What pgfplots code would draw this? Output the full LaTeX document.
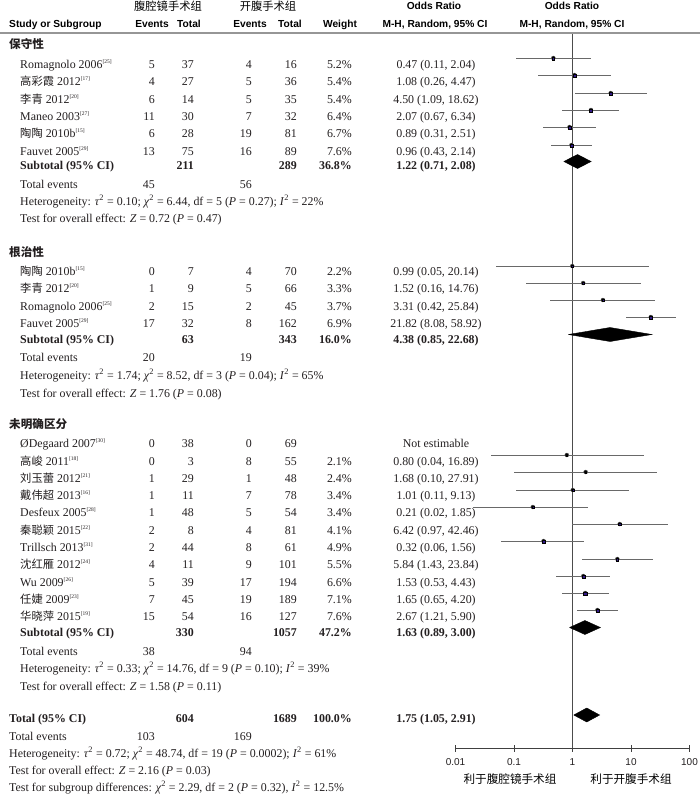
\documentclass[border=0pt]{standalone}
\usepackage{pgfplots}
\pgfplotsset{compat=1.18}
\usepackage{pgfplotstable}
\usepackage{fontspec}
\setmainfont{Liberation Serif}
\setsansfont{Liberation Sans}
\newfontfamily\cjk{Noto Sans CJK SC}
\definecolor{txt}{RGB}{35,31,32}
\definecolor{sq}{RGB}{50,25,135}
\definecolor{ci}{RGB}{105,105,105}
\definecolor{hline}{RGB}{150,150,150}

\newcommand\rf[1]{\textsuperscript{\fontsize{5.5}{5.5}\selectfont[#1]}}
\newcommand\C[1]{{\cjk\fontsize{11.3}{12}\selectfont #1}}
\newcommand\bodyfont{\fontsize{11.9}{13}\selectfont}
\newcommand\hdfont{\sffamily\bfseries\fontsize{10.2}{12}\selectfont}
\newcommand\srow[8]{%
  \node[anchor=base west] at (20pt,-#1pt) {#2};
  \node[anchor=base east] at (155pt,-#1pt) {#3};
  \node[anchor=base east] at (194pt,-#1pt) {#4};
  \node[anchor=base east] at (252pt,-#1pt) {#5};
  \node[anchor=base east] at (297pt,-#1pt) {#6};
  \node[anchor=base east] at (352pt,-#1pt) {#7};
  \node[anchor=base] at (436pt,-#1pt) {#8};}
\newcommand\tev[4]{%
  \node[anchor=base west] at (#1pt,-#2pt) {Total events};
  \node[anchor=base east] at (155pt,-#2pt) {#3};
  \node[anchor=base east] at (252pt,-#2pt) {#4};}
% square marker: OR, row, half side (grows with weight)
\newcommand\sqp[3]{\addplot[only marks, mark=square*, mark size=#3,
  mark options={draw=none, fill=sq}] coordinates {(#1,#2)};}

% studies: odds ratio, 95% CI, row position (negative pixel row), weight (%)
\pgfplotstableread{
or    lo    hi     y     w
0.47  0.11  2.04   -58   5.2
1.08  0.26  4.47   -75   5.4
4.50  1.09  18.62  -93   5.4
2.07  0.67  6.34   -110  6.4
0.89  0.31  2.51   -127  6.7
0.96  0.43  2.14   -145  7.6
0.99  0.05  20.14  -266  2.2
1.52  0.16  14.76  -283  3.3
3.31  0.42  25.84  -300  3.7
21.82 8.08  58.92  -317  6.9
0.80  0.04  16.89  -455  2.1
1.68  0.10  27.91  -472  2.4
1.01  0.11  9.13   -490  3.4
0.21  0.02  1.85   -507  3.4
6.42  0.97  42.46  -524  4.1
0.32  0.06  1.56   -541  4.9
5.84  1.43  23.84  -559  5.5
1.53  0.53  4.43   -576  6.6
1.65  0.65  4.20   -593  7.1
2.67  1.21  5.90   -610  7.6
}\studies

\begin{document}
\begin{tikzpicture}
\path[use as bounding box] (0pt,0pt) rectangle (700pt,-795pt);
\begin{axis}[
  at={(455.5pt,-748pt)}, anchor=south west,
  scale only axis, width=234pt, height=715pt,
  xmode=log, xmin=0.01, xmax=100, ymin=-748, ymax=-33,
  clip=false,
  axis x line=bottom, axis y line=none,
  x axis line style={-, draw=black!75, line width=0.8pt},
  xtick={0.01,0.1,1,10,100},
  xticklabels={0.01,0.1,1,10,100},
  minor xtick={}, xminorticks=false,
  tick align=center, major tick length=7pt,
  every tick/.style={draw=black!75, line width=0.8pt},
  xticklabel style={font=\sffamily\fontsize{10}{10}\selectfont, text=txt, inner sep=0pt, yshift=-7pt},
  ytick=\empty,
]
\addplot[draw=black!70, line width=0.8pt] coordinates {(1,-33) (1,-748)};
\addplot[only marks, mark=none, draw=ci,
  error bars/.cd, x dir=both, x explicit, error mark=none,
  error bar style={draw=ci, line width=0.7pt}]
  table[x=or, y=y, x error minus expr=\thisrow{or}-\thisrow{lo},
        x error plus expr=\thisrow{hi}-\thisrow{or}] {\studies};
\sqp{0.47}{-58.5}{1.28}
\sqp{1.08}{-75.5}{1.31}
\sqp{4.50}{-93.5}{1.31}
\sqp{2.07}{-110.5}{1.46}
\sqp{0.89}{-127.5}{1.51}
\sqp{0.96}{-145.5}{1.64}
\sqp{0.99}{-266.5}{0.83}
\sqp{1.52}{-283.5}{1.00}
\sqp{3.31}{-300.5}{1.06}
\sqp{21.82}{-317.5}{1.54}
\sqp{0.80}{-455.5}{0.82}
\sqp{1.68}{-472.5}{0.86}
\sqp{1.01}{-490.5}{1.01}
\sqp{0.21}{-507.5}{1.01}
\sqp{6.42}{-524.5}{1.12}
\sqp{0.32}{-541.5}{1.24}
\sqp{5.84}{-559.5}{1.33}
\sqp{1.53}{-576.5}{1.49}
\sqp{1.65}{-593.5}{1.57}
\sqp{2.67}{-610.5}{1.64}
\addplot[fill=black, draw=black] coordinates {(0.71,-161.5) (1.22,-154.5) (2.08,-161.5) (1.22,-168.5) (0.71,-161.5)};
\addplot[fill=black, draw=black] coordinates {(0.85,-334.5) (4.38,-327.5) (22.68,-334.5) (4.38,-341.5) (0.85,-334.5)};
\addplot[fill=black, draw=black] coordinates {(0.89,-627.5) (1.63,-620.5) (3.00,-627.5) (1.63,-634.5) (0.89,-627.5)};
\addplot[fill=black, draw=black] coordinates {(1.05,-715) (1.75,-708) (2.91,-715) (1.75,-722) (1.05,-715)};
\end{axis}

\draw[hline, line width=1.6pt] (0pt,-33pt) -- (700pt,-33pt);

% headers
\begin{scope}[every node/.style={inner sep=0pt, text=black}]
\node[anchor=base] at (168pt,-10.5pt) {\cjk\fontsize{11.3}{12}\selectfont 腹腔镜手术组};
\node[anchor=base] at (268pt,-10.5pt) {\cjk\fontsize{11.3}{12}\selectfont 开腹手术组};
\node[anchor=base] at (434pt,-9.6pt) {\hdfont Odds Ratio};
\node[anchor=base] at (572pt,-9.6pt) {\hdfont Odds Ratio};
\node[anchor=base west] at (9pt,-27.6pt) {\hdfont Study or Subgroup};
\node[anchor=base] at (152pt,-27.6pt) {\hdfont Events};
\node[anchor=base] at (189pt,-27.6pt) {\hdfont Total};
\node[anchor=base] at (250pt,-27.6pt) {\hdfont Events};
\node[anchor=base] at (290pt,-27.6pt) {\hdfont Total};
\node[anchor=base] at (340pt,-27.6pt) {\hdfont Weight};
\node[anchor=base] at (435pt,-27.6pt) {\hdfont M-H, Random, 95\% CI};
\node[anchor=base] at (572pt,-27.6pt) {\hdfont M-H, Random, 95\% CI};
\node[anchor=base] at (510pt,-783.6pt) {\cjk\fontsize{11.6}{12}\selectfont 利于腹腔镜手术组};
\node[anchor=base] at (631pt,-783.6pt) {\cjk\fontsize{11.6}{12}\selectfont 利于开腹手术组};
\end{scope}

\begin{scope}[every node/.style={inner sep=0pt, text=txt, font=\bodyfont}]
% group 1
\node[anchor=base west] at (9pt,-48.6pt) {\cjk\bfseries\fontsize{11.6}{12}\selectfont 保守性};
\srow{68}{Romagnolo 2006\rf{25}}{5}{37}{4}{16}{5.2\%}{0.47 (0.11, 2.04)}
\srow{85}{\C{高彩霞} 2012\rf{17}}{4}{27}{5}{36}{5.4\%}{1.08 (0.26, 4.47)}
\srow{103}{\C{李青} 2012\rf{20}}{6}{14}{5}{35}{5.4\%}{4.50 (1.09, 18.62)}
\srow{120}{Maneo 2003\rf{27}}{11}{30}{7}{32}{6.4\%}{2.07 (0.67, 6.34)}
\srow{137}{\C{陶陶} 2010b\rf{15}}{6}{28}{19}{81}{6.7\%}{0.89 (0.31, 2.51)}
\srow{155}{Fauvet 2005\rf{29}}{13}{75}{16}{89}{7.6\%}{0.96 (0.43, 2.14)}
\srow{169}{\textbf{Subtotal (95\% CI)}}{}{\textbf{211}}{}{\textbf{289}}{\textbf{36.8\%}}{\textbf{1.22 (0.71, 2.08)}}
\tev{20}{188}{45}{56}
\node[anchor=base west] at (20pt,-205pt) {Heterogeneity: \textit{τ}\textsuperscript{2} = 0.10; \textit{χ}\textsuperscript{2} = 6.44, df = 5 (\textit{P} = 0.27); \textit{I}\textsuperscript{2} = 22\%};
\node[anchor=base west] at (20pt,-222pt) {Test for overall effect: \textit{Z} = 0.72 (\textit{P} = 0.47)};
% group 2
\node[anchor=base west] at (9pt,-256.6pt) {\cjk\bfseries\fontsize{11.6}{12}\selectfont 根治性};
\srow{275}{\C{陶陶} 2010b\rf{15}}{0}{7}{4}{70}{2.2\%}{0.99 (0.05, 20.14)}
\srow{292}{\C{李青} 2012\rf{20}}{1}{9}{5}{66}{3.3\%}{1.52 (0.16, 14.76)}
\srow{310}{Romagnolo 2006\rf{25}}{2}{15}{2}{45}{3.7\%}{3.31 (0.42, 25.84)}
\srow{327}{Fauvet 2005\rf{29}}{17}{32}{8}{162}{6.9\%}{21.82 (8.08, 58.92)}
\srow{343}{\textbf{Subtotal (95\% CI)}}{}{\textbf{63}}{}{\textbf{343}}{\textbf{16.0\%}}{\textbf{4.38 (0.85, 22.68)}}
\tev{20}{361}{20}{19}
\node[anchor=base west] at (20pt,-379pt) {Heterogeneity: \textit{τ}\textsuperscript{2} = 1.74; \textit{χ}\textsuperscript{2} = 8.52, df = 3 (\textit{P} = 0.04); \textit{I}\textsuperscript{2} = 65\%};
\node[anchor=base west] at (20pt,-397pt) {Test for overall effect: \textit{Z} = 1.76 (\textit{P} = 0.08)};
% group 3
\node[anchor=base west] at (9pt,-428.6pt) {\cjk\bfseries\fontsize{11.6}{12}\selectfont 未明确区分};
\srow{447}{ØDegaard 2007\rf{30}}{0}{38}{0}{69}{}{Not estimable}
\srow{465}{\C{高峻} 2011\rf{18}}{0}{3}{8}{55}{2.1\%}{0.80 (0.04, 16.89)}
\srow{482}{\C{刘玉蕾} 2012\rf{21}}{1}{29}{1}{48}{2.4\%}{1.68 (0.10, 27.91)}
\srow{499}{\C{戴伟超} 2013\rf{16}}{1}{11}{7}{78}{3.4\%}{1.01 (0.11, 9.13)}
\srow{516}{Desfeux 2005\rf{28}}{1}{48}{5}{54}{3.4\%}{0.21 (0.02, 1.85)}
\srow{534}{\C{秦聪颖} 2015\rf{22}}{2}{8}{4}{81}{4.1\%}{6.42 (0.97, 42.46)}
\srow{551}{Trillsch 2013\rf{31}}{2}{44}{8}{61}{4.9\%}{0.32 (0.06, 1.56)}
\srow{568}{\C{沈红雁} 2012\rf{24}}{4}{11}{9}{101}{5.5\%}{5.84 (1.43, 23.84)}
\srow{586}{Wu 2009\rf{26}}{5}{39}{17}{194}{6.6\%}{1.53 (0.53, 4.43)}
\srow{603}{\C{任婕} 2009\rf{23}}{7}{45}{19}{189}{7.1\%}{1.65 (0.65, 4.20)}
\srow{620}{\C{华晓萍} 2015\rf{19}}{15}{54}{16}{127}{7.6\%}{2.67 (1.21, 5.90)}
\srow{636}{\textbf{Subtotal (95\% CI)}}{}{\textbf{330}}{}{\textbf{1057}}{\textbf{47.2\%}}{\textbf{1.63 (0.89, 3.00)}}
\tev{20}{655}{38}{94}
\node[anchor=base west] at (20pt,-672pt) {Heterogeneity: \textit{τ}\textsuperscript{2} = 0.33; \textit{χ}\textsuperscript{2} = 14.76, df = 9 (\textit{P} = 0.10); \textit{I}\textsuperscript{2} = 39\%};
\node[anchor=base west] at (20pt,-690pt) {Test for overall effect: \textit{Z} = 1.58 (\textit{P} = 0.11)};
% overall
\node[anchor=base west] at (9pt,-722pt) {\textbf{Total (95\% CI)}};
\node[anchor=base east] at (194pt,-722pt) {\textbf{604}};
\node[anchor=base east] at (297pt,-722pt) {\textbf{1689}};
\node[anchor=base east] at (352pt,-722pt) {\textbf{100.0\%}};
\node[anchor=base] at (436pt,-722pt) {\textbf{1.75 (1.05, 2.91)}};
\tev{9}{740}{103}{169}
\node[anchor=base west] at (9pt,-757pt) {Heterogeneity: \textit{τ}\textsuperscript{2} = 0.72; \textit{χ}\textsuperscript{2} = 48.74, df = 19 (\textit{P} = 0.0002); \textit{I}\textsuperscript{2} = 61\%};
\node[anchor=base west] at (9pt,-774pt) {Test for overall effect: \textit{Z} = 2.16 (\textit{P} = 0.03)};
\node[anchor=base west] at (9pt,-791pt) {Test for subgroup differences: \textit{χ}\textsuperscript{2} = 2.29, df = 2 (\textit{P} = 0.32), \textit{I}\textsuperscript{2} = 12.5\%};
\end{scope}
\end{tikzpicture}
\end{document}
